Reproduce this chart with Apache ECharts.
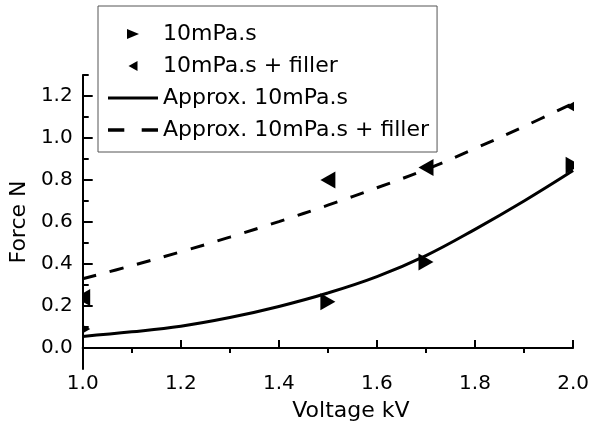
<!DOCTYPE html>
<html lang="en">
  <head>
    <meta charset="utf-8" />
    <title>Force vs Voltage</title>
    <style>
      html, body { margin: 0; padding: 0; background: #fff; }
      #chart-container { width: 592px; height: 430px; }
    </style>
  </head>
  <body>
    <div id="chart-container"></div>
    <script src="https://fastly.jsdelivr.net/npm/echarts@6.0.0/dist/echarts.min.js"></script>
    <script>
      // measured points
      var voltage = [1.0, 1.5, 1.7, 2.0];
      var force10 = [0.09, 0.22, 0.41, 0.87];
      var forceFiller = [0.24, 0.80, 0.86, 1.15];

      // approximation curves
      var fitVoltage = [1.0, 1.1, 1.2, 1.3, 1.4, 1.5, 1.6, 1.7, 1.8, 1.9, 2.0];
      var fit10 = [0.055, 0.077, 0.104, 0.145, 0.198, 0.262, 0.34, 0.44, 0.565, 0.70, 0.845];
      var fitFiller = [0.33, 0.392, 0.458, 0.528, 0.602, 0.68, 0.763, 0.85, 0.95, 1.055, 1.165];

      var names = ["10mPa.s", "10mPa.s + filler", "Approx. 10mPa.s", "Approx. 10mPa.s + filler"];

      var xLabels = [1.0, 1.2, 1.4, 1.6, 1.8, 2.0];
      var xMinor = [1.1, 1.3, 1.5, 1.7, 1.9];
      var yLabels = [0.0, 0.2, 0.4, 0.6, 0.8, 1.0, 1.2];
      var yMinor = [0.1, 0.3, 0.5, 0.7, 0.9, 1.1, 1.3];

      function pairs(xs, ys) {
        var out = [];
        for (var i = 0; i < xs.length; i++) out.push([xs[i], ys[i]]);
        return out;
      }

      // triangle marker, dir 1 = pointing right, -1 = pointing left
      function triangle(dir) {
        return function (params, api) {
          var p = api.coord([api.value(0), api.value(1)]);
          var w = 15, h = 17;
          var tip = [p[0] + dir * w / 2, p[1]];
          var b1 = [p[0] - dir * w / 2, p[1] - h / 2];
          var b2 = [p[0] - dir * w / 2, p[1] + h / 2];
          return {
            type: "polygon",
            shape: { points: [b1, tip, b2] },
            style: { fill: "#000" }
          };
        };
      }

      var font = "DejaVu Sans";
      var dom = document.getElementById("chart-container");
      var myChart = echarts.init(dom, null, { renderer: "canvas" });

      var majorAxis = {
        type: "value",
        axisLine: { show: true, lineStyle: { color: "#000", width: 2 } },
        axisTick: { show: true, inside: true, length: 10, lineStyle: { color: "#000", width: 2 } },
        axisLabel: {
          color: "#000",
          fontFamily: font,
          fontSize: 20,
          formatter: function (v) { return v.toFixed(1); }
        },
        splitLine: { show: false }
      };

      var option = {
        animation: false,
        backgroundColor: "#fff",
        grid: { left: 82, right: 18, top: 75, bottom: 61 },
        legend: {
          orient: "vertical",
          left: 98,
          top: 6,
          padding: [17, 8, 11, 10],
          itemGap: 10,
          itemWidth: 50,
          itemHeight: 10,
          borderColor: "#555",
          borderWidth: 1,
          backgroundColor: "#fff",
          selectedMode: false,
          textStyle: { color: "#000", fontFamily: font, fontSize: 22, lineHeight: 22 },
          data: [
            { name: names[0], icon: "path://M0,0L12,5L0,10Z" },
            { name: names[1], icon: "path://M9,0L0,5L9,10Z" },
            { name: names[2], icon: "path://M0,0h50v3h-50z" },
            { name: names[3], icon: "path://M0,0h15v3h-15zM31,0h15v3h-15z" }
          ]
        },
        xAxis: [
          Object.assign({}, majorAxis, {
            min: 1.0,
            max: 2.0,
            name: "Voltage kV",
            nameLocation: "middle",
            nameGap: 31,
            nameTextStyle: { color: "#000", fontFamily: font, fontSize: 22, padding: [0, 0, 0, 46] },
            axisTick: Object.assign({}, majorAxis.axisTick, { length: 8, customValues: xLabels }),
            axisLabel: Object.assign({}, majorAxis.axisLabel, { margin: 5, customValues: xLabels })
          }),
          {
            type: "value",
            min: 1.0,
            max: 2.0,
            axisLine: { show: false },
            axisTick: { show: true, inside: true, length: 5, customValues: xMinor, lineStyle: { color: "#000", width: 2 } },
            axisLabel: { show: false },
            splitLine: { show: false }
          }
        ],
        yAxis: [
          Object.assign({}, majorAxis, {
            min: -0.1,
            max: 1.3,
            name: "Force N",
            nameLocation: "middle",
            nameGap: 52,
            nameTextStyle: { color: "#000", fontFamily: font, fontSize: 22 },
            axisTick: Object.assign({}, majorAxis.axisTick, { customValues: yLabels }),
            axisLabel: Object.assign({}, majorAxis.axisLabel, { margin: 10, customValues: yLabels })
          }),
          {
            type: "value",
            min: -0.1,
            max: 1.3,
            position: "left",
            axisLine: { show: false },
            axisTick: { show: true, inside: true, length: 6, customValues: yMinor, lineStyle: { color: "#000", width: 2 } },
            axisLabel: { show: false },
            splitLine: { show: false }
          }
        ],
        series: [
          {
            name: names[0],
            type: "custom",
            clip: true,
            itemStyle: { color: "#000" },
            renderItem: triangle(1),
            encode: { x: 0, y: 1 },
            data: pairs(voltage, force10),
            z: 3
          },
          {
            name: names[1],
            type: "custom",
            clip: true,
            itemStyle: { color: "#000" },
            renderItem: triangle(-1),
            encode: { x: 0, y: 1 },
            data: pairs(voltage, forceFiller),
            z: 3
          },
          {
            name: names[2],
            type: "line",
            smooth: 0.4,
            symbol: "none",
            color: "#000",
            lineStyle: { color: "#000", width: 3 },
            data: pairs(fitVoltage, fit10)
          },
          {
            name: names[3],
            type: "line",
            smooth: 0.4,
            symbol: "none",
            color: "#000",
            lineStyle: { color: "#000", width: 3, type: [14, 14] },
            data: pairs(fitVoltage, fitFiller)
          }
        ]
      };

      myChart.setOption(option);
      window.addEventListener("resize", myChart.resize);
    </script>
  </body>
</html>
